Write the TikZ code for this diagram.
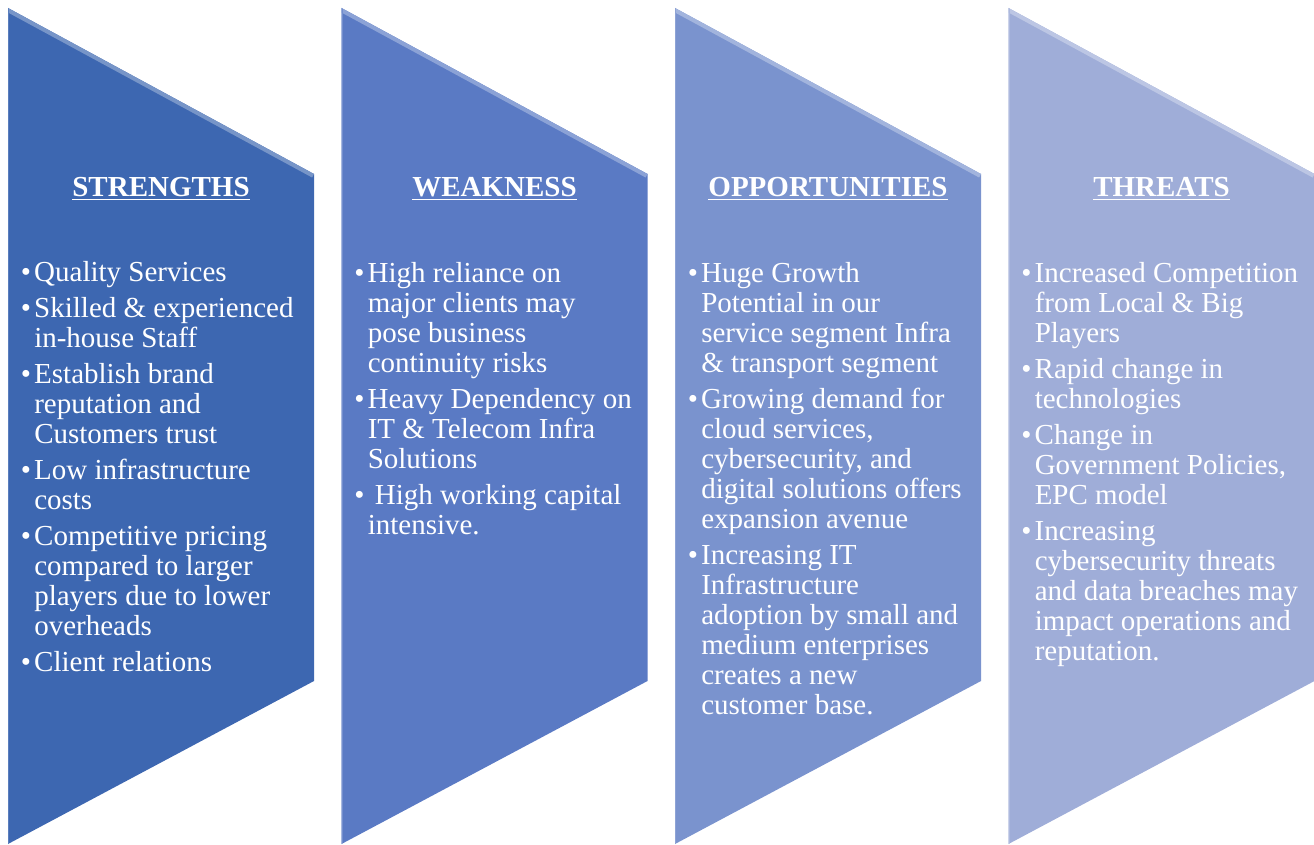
\documentclass[tikz,border=0pt]{standalone}
\usepackage{fontspec}
\setmainfont{Liberation Serif}
\usepackage{xcolor}
\usetikzlibrary{positioning}

\definecolor{strengthblue}{RGB}{61,103,177}
\definecolor{weaknessblue}{RGB}{90,122,196}
\definecolor{opportunityblue}{RGB}{122,147,206}
\definecolor{threatblue}{RGB}{159,173,216}
\newcommand{\bul}{\llap{\textbullet\hspace{2.5pt}}}

\tikzset{
  heading/.style={text=white, font=\rmfamily\fontsize{21.75pt}{22.5pt}\selectfont\bfseries, inner sep=0pt, anchor=base},
  points/.style={text=white, font=\rmfamily\fontsize{21.75pt}{22.5pt}\selectfont, inner sep=0pt, align=left, anchor=base west},
}

\begin{document}
\begin{tikzpicture}[x=0.75pt, y=-0.75pt]
    \useasboundingbox (0,0) rectangle (1314,845);
    % the four chevrons
    \foreach \l/\c in {8/strengthblue, 341.5/weaknessblue, 675/opportunityblue, 1008.5/threatblue}{
        \fill[\c] (\l,8) -- (\l+306,174) -- (\l+306,681) -- (\l,844) -- cycle;
        \begin{scope}
            \clip (\l,8) -- (\l+306,174) -- (\l+306,681) -- (\l,844) -- cycle;
            \draw[line width=6pt, white!30!\c] (\l,8) -- (\l+306,174);
            \draw[line width=2pt, white!15!\c] (\l,8) -- (\l,844);
        \end{scope}
    }
    % headings
    \node[heading] (strengths) at (161,197) {\underline{STRENGTHS}};
    \node[heading] (weakness) at (494.5,197) {\underline{WEAKNESS}};
    \node[heading] (opportunities) at (828,197) {\underline{OPPORTUNITIES}};
    \node[heading] (threats) at (1161.5,197) {\underline{THREATS}};
    % bullet lists (placed by the baseline of their last line)
    \node[points] (strengthlist) at (34,671) {\bul Quality Services\\[4.5pt]
        \bul Skilled \& experienced\\
        in-house Staff\\[4.5pt]
        \bul Establish brand\\
        reputation and\\
        Customers trust\\[4.5pt]
        \bul Low infrastructure\\
        costs\\[4.5pt]
        \bul Competitive pricing\\
        compared to larger\\
        players due to lower\\
        overheads\\[4.5pt]
        \bul Client relations};
    \node[points] (weaknesslist) at (367.5,534) {\bul High reliance on\\
        major clients may\\
        pose business\\
        continuity risks\\[4.5pt]
        \bul Heavy Dependency on\\
        IT \& Telecom Infra\\
        Solutions\\[4.5pt]
        \bul\ High working capital\\
        intensive.};
    \node[points] (opportunitylist) at (701,714) {\bul Huge Growth\\
        Potential in our\\
        service segment Infra\\
        \& transport segment\\[4.5pt]
        \bul Growing demand for\\
        cloud services,\\
        cybersecurity, and\\
        digital solutions offers\\
        expansion avenue\\[4.5pt]
        \bul Increasing IT\\
        Infrastructure\\
        adoption by small and\\
        medium enterprises\\
        creates a new\\
        customer base.};
    \node[points] (threatlist) at (1034.5,660) {\bul Increased Competition\\
        from Local \& Big\\
        Players\\[4.5pt]
        \bul Rapid change in\\
        technologies\\[4.5pt]
        \bul Change in\\
        Government Policies,\\
        EPC model\\[4.5pt]
        \bul Increasing\\
        cybersecurity threats\\
        and data breaches may\\
        impact operations and\\
        reputation.};
\end{tikzpicture}
\end{document}
